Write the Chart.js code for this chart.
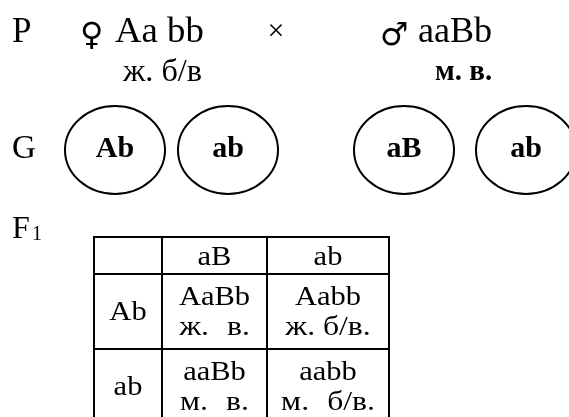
<!DOCTYPE html>
<html>
<head>
<meta charset="utf-8">
<script src="https://cdn.jsdelivr.net/npm/chart.js@4/dist/chart.umd.min.js"></script>
<style>
html,body{margin:0;padding:0;background:#fff;}
#wrap{width:569px;height:417px;}
</style>
</head>
<body>
<div id="wrap"><canvas id="c" width="569" height="417"></canvas></div>
<script>
// ---- data ----
const rowLabels = ['P', 'G', 'F'];
const femaleParent = ['♀', 'Aa bb'];
const maleParent = ['♂', 'aaBb'];
const femalePhenotype = 'ж. б/в';
const malePhenotype = 'м. в.';
const femaleGametes = ['Ab', 'ab'];
const maleGametes = ['aB', 'ab'];
const offspringGenotypes = [['AaBb', 'Aabb'], ['aaBb', 'aabb']];
const offspringPhenotypes = [['ж. в.', 'ж. б/в.'], ['м. в.', 'м. б/в.']];

const SERIF = "'Liberation Serif', 'Times New Roman', serif";
const SYM = "'DejaVu Sans', sans-serif";
const wideSpace = [[true, false], [true, true]];

const schemePlugin = {
  id: 'scheme',
  afterDraw(chart) {
    const ctx = chart.ctx;
    const X = v => chart.scales.x.getPixelForValue(v);
    const Y = v => chart.scales.y.getPixelForValue(v);
    ctx.save();
    ctx.fillStyle = '#000';
    ctx.strokeStyle = '#000';
    ctx.textBaseline = 'alphabetic';
    const txt = (s, x, y, font, align, sx, ws) => {
      ctx.save();
      ctx.font = font; ctx.textAlign = align || 'left';
      if ('wordSpacing' in ctx) ctx.wordSpacing = ws || '0px';
      ctx.translate(X(x), Y(y));
      ctx.scale(sx || 1, 1);
      ctx.fillText(s, 0, 0);
      ctx.restore();
    };
    // P row
    txt(rowLabels[0], 12, 42, '35px ' + SERIF);
    txt(femaleParent[0], 80, 45, '32px ' + SYM);
    txt(femaleParent[1], 115, 42, '35px ' + SERIF, 'left', 1.05);
    txt('×', 276, 40, '30px ' + SERIF, 'center');
    txt(maleParent[0], 380, 45, '32px ' + SYM);
    txt(maleParent[1], 418, 42, '35px ' + SERIF, 'left', 1.03);
    txt(femalePhenotype, 123, 81, '31px ' + SERIF, 'left', 1.04);
    txt(malePhenotype, 435, 80, 'bold 29px ' + SERIF);
    // G row
    txt(rowLabels[1], 12, 158, '33px ' + SERIF);
    const gam = femaleGametes.concat(maleGametes);
    const cx = [115, 228, 404, 526];
    ctx.lineWidth = 2;
    gam.forEach((g, i) => {
      ctx.beginPath();
      ctx.ellipse(X(cx[i]), Y(150), 50, 44, 0, 0, Math.PI * 2);
      ctx.stroke();
      txt(g, cx[i], 157, 'bold 30px ' + SERIF, 'center');
    });
    // F1
    txt(rowLabels[2], 12, 238, '32px ' + SERIF);
    txt('1', 32, 240, '20px ' + SERIF);
    // Punnett table
    const xs = [94, 162, 267, 389];
    const ys = [237, 274, 349, 430];
    ctx.lineWidth = 2;
    ctx.beginPath();
    xs.forEach(x => { ctx.moveTo(X(x), Y(ys[0]) - 1); ctx.lineTo(X(x), Y(ys[3])); });
    ys.forEach(y => { ctx.moveTo(X(xs[0]) - 1, Y(y)); ctx.lineTo(X(xs[3]) + 1, Y(y)); });
    ctx.stroke();
    const SX = 1.13;
    maleGametes.forEach((g, j) => txt(g, (xs[j+1] + xs[j+2]) / 2, 265, '27px ' + SERIF, 'center', SX));
    femaleGametes.forEach((g, i) => {
      const top = ys[i+1];
      txt(g, (xs[0] + xs[1]) / 2, top + 46, '27px ' + SERIF, 'center', SX);
      for (let j = 0; j < 2; j++) {
        const mx = (xs[j+1] + xs[j+2]) / 2;
        txt(offspringGenotypes[i][j], mx, top + 31, '27px ' + SERIF, 'center', SX);
        txt(offspringPhenotypes[i][j], mx, top + 61, '28px ' + SERIF, 'center', SX,
            wideSpace[i][j] ? '9px' : '0px');
      }
    });
    ctx.restore();
  }
};

new Chart(document.getElementById('c'), {
  type: 'scatter',
  data: { datasets: [{ data: [] }] },
  options: {
    responsive: false,
    animation: false,
    layout: { padding: 0 },
    plugins: { legend: { display: false }, tooltip: { enabled: false } },
    scales: {
      x: { type: 'linear', min: 0, max: 569, display: false },
      y: { type: 'linear', min: 0, max: 417, reverse: true, display: false }
    }
  },
  plugins: [schemePlugin]
});
</script>
</body>
</html>
